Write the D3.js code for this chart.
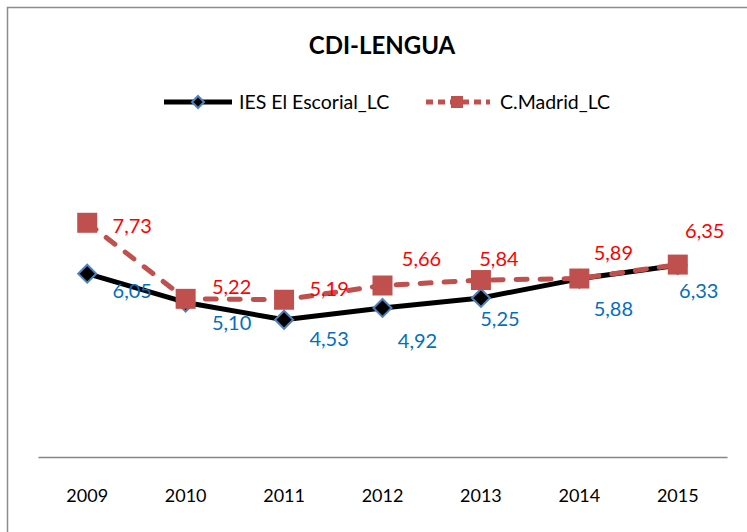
<!DOCTYPE html>
<html><head><meta charset="utf-8">
<script src="https://cdn.jsdelivr.net/npm/d3@7/dist/d3.min.js"></script>
<style>body{margin:0;background:#fff}svg{display:block;font-family:Lato,"Open Sans",sans-serif}</style>
</head><body>
<script>
const years = ["2009","2010","2011","2012","2013","2014","2015"];
const iesValues = [6.05, 5.10, 4.53, 4.92, 5.25, 5.88, 6.33];
const madridValues = [7.73, 5.22, 5.19, 5.66, 5.84, 5.89, 6.35];
const seriesNames = ["IES El Escorial_LC", "C.Madrid_LC"];
const chartTitle = "CDI-LENGUA";

// label nudges (layout only)
const iesNudge = [[45,16],[46,20],[45,18],[35,32],[19,20],[34,29],[21,25]];
const madNudge = [[45,2],[46,-13],[45,-12],[39,-28],[18,-22],[34,-27],[27,-35]];

const W = 747, H = 532;
const svg = d3.select("body").append("svg").attr("width", W).attr("height", H);
svg.append("rect").attr("width", W).attr("height", H).attr("fill", "#fff");
svg.append("rect").attr("x", 7.5).attr("y", 7.5).attr("width", 800).attr("height", 600)
  .attr("fill", "none").attr("stroke", "#8c8c8c").attr("stroke-width", 1.5);

const x = d3.scaleBand().domain(years).range([38, 727]);
const y = d3.scaleLinear().domain([0, 10]).range([457, 154]);
const cx = d => x(d) + x.bandwidth() / 2;

svg.append("text").attr("x", 382).attr("y", 54).attr("text-anchor", "middle")
  .attr("font-size", 24).attr("font-weight", "bold").attr("fill", "#000").text(chartTitle);

// axis
const ax = svg.append("g").attr("transform", "translate(0,457)")
  .call(d3.axisBottom(x).tickSize(0).tickPadding(31));
ax.attr("font-family", null).attr("font-size", null);
ax.select(".domain").attr("stroke", "#868686").attr("stroke-width", 1.5);
ax.selectAll("text").attr("font-size", 18).attr("font-weight", "normal").attr("fill", "#000")
  .attr("font-family", "Lato,sans-serif").attr("dy", null).attr("dominant-baseline", "hanging");

const line = d3.line().x((d, i) => cx(years[i])).y(d => y(d));
const mColor = "#C0504D";

// IES line
svg.append("path").datum(iesValues).attr("d", line).attr("fill", "none")
  .attr("stroke", "#000").attr("stroke-width", 5).attr("stroke-linejoin", "round");
const diamond = (s) => `M0,${-s}L${s},0L0,${s}L${-s},0Z`;
svg.selectAll(".dia").data(iesValues).join("path")
  .attr("transform", (d, i) => `translate(${cx(years[i])},${y(d)})`)
  .attr("d", diamond(9)).attr("fill", "#000").attr("stroke", "#4F81BD").attr("stroke-width", 2);

// Madrid line
svg.append("path").datum(madridValues).attr("d", line).attr("fill", "none")
  .attr("stroke", mColor).attr("stroke-width", 5).attr("stroke-dasharray", "11,13")
  .attr("stroke-linecap", "round");
svg.selectAll(".sq").data(madridValues).join("rect")
  .attr("x", (d, i) => cx(years[i]) - 10).attr("y", d => y(d) - 10)
  .attr("width", 20).attr("height", 20).attr("fill", mColor);

// labels
const fmt = v => d3.format(".2f")(v).replace(".", ",");
svg.selectAll(".li").data(iesValues).join("text")
  .attr("x", (d, i) => cx(years[i]) + iesNudge[i][0]).attr("y", (d, i) => y(d) + iesNudge[i][1])
  .attr("text-anchor", "middle").attr("dominant-baseline", "central")
  .attr("font-size", 20).attr("fill", "#0070C0").text(fmt);
svg.selectAll(".lm").data(madridValues).join("text")
  .attr("x", (d, i) => cx(years[i]) + madNudge[i][0]).attr("y", (d, i) => y(d) + madNudge[i][1])
  .attr("text-anchor", "middle").attr("dominant-baseline", "central")
  .attr("font-size", 20).attr("fill", "#FF0000").text(fmt);

// legend
const lg = svg.append("g");
lg.append("line").attr("x1", 164).attr("x2", 232).attr("y1", 102).attr("y2", 102)
  .attr("stroke", "#000").attr("stroke-width", 5);
lg.append("path").attr("transform", "translate(198,102)").attr("d", diamond(6))
  .attr("fill", "#000").attr("stroke", "#4F81BD").attr("stroke-width", 2);
lg.append("text").attr("x", 239).attr("y", 109).attr("font-size", 19.5).attr("fill", "#000").text(seriesNames[0]);
lg.append("line").attr("x1", 426).attr("x2", 490).attr("y1", 102).attr("y2", 102)
  .attr("stroke", mColor).attr("stroke-width", 5).attr("stroke-dasharray", "7,5")
  .attr("stroke-linecap", "butt");
lg.append("rect").attr("x", 451).attr("y", 96).attr("width", 12).attr("height", 12).attr("fill", mColor);
lg.append("text").attr("x", 500).attr("y", 109).attr("font-size", 19.5).attr("fill", "#000").text(seriesNames[1]);
</script>
</body></html>
